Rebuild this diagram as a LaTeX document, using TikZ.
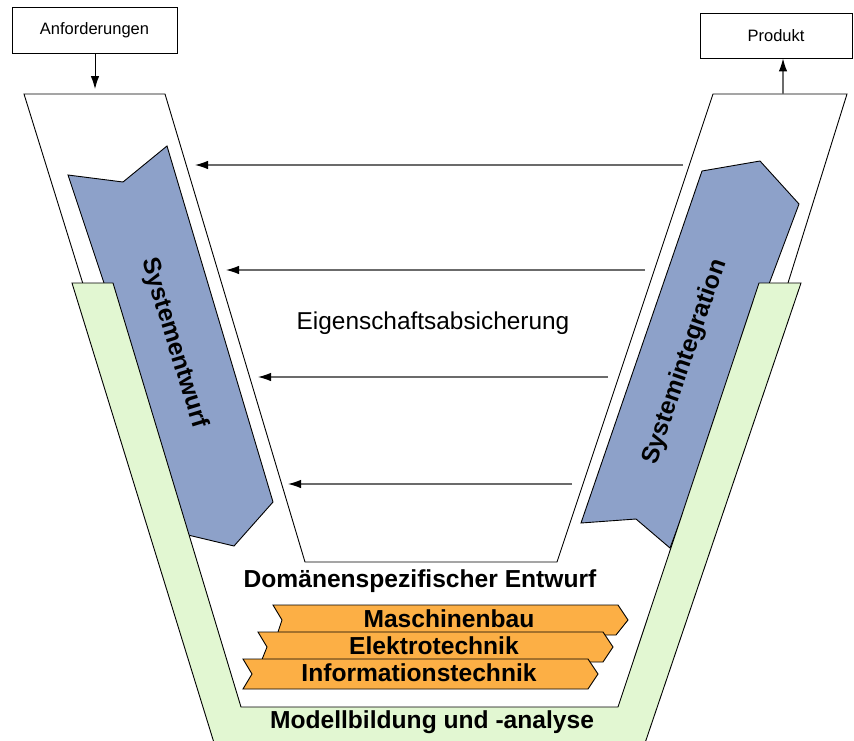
\documentclass[tikz,border=0pt]{standalone}
\usepackage{fontspec}
\setmainfont{Liberation Sans}
\usetikzlibrary{arrows.meta}
\definecolor{vblue}{HTML}{8DA1C9}
\definecolor{vgreen}{HTML}{E2F7D2}
\definecolor{vorange}{HTML}{FCAF45}
\definecolor{vgray}{HTML}{6B6B6B}
\begin{document}
\begin{tikzpicture}[x=1pt,y=-1pt,line join=miter,
  outline/.style={draw=black,line width=0.9pt},
  labelbox/.style={draw=black,line width=0.9pt,fill=white,inner sep=0pt,
    font=\fontsize{16.5}{20}\selectfont},
  bigbold/.style={font=\fontsize{24.6}{29}\selectfont\bfseries,inner sep=0pt},
  bigplain/.style={font=\fontsize{24.4}{29}\selectfont,inner sep=0pt},
  chev/.style={outline,fill=vorange},
  backarrow/.style={draw=vgray,line width=1.1pt,-{Latex[color=black,length=13pt,width=8.5pt]}}
]
\useasboundingbox (0,0) rectangle (854,740);

% V-shaped carrier of the two phases (its lower part runs under the green band)
\draw[outline,fill=white] (24,94) -- (165,94) -- (305,562) -- (557,562) -- (713,94)
  -- (847,94) -- (788,283) -- (640,722) -- (219,722) -- cycle;

% phase arrows
\draw[outline,fill=vblue] (68,175) -- (123,182) -- (167,146) -- (273,502)
  -- (234,546) -- (188,535) -- cycle;
\draw[outline,fill=vblue] (702,171) -- (760,161) -- (799,204) -- (670,548)
  -- (636,519) -- (581,523) -- cycle;

% modelling and analysis band
\draw[outline,fill=vgreen] (72,283) -- (113,283) -- (241,707) -- (618,707)
  -- (759,283) -- (801,283) -- (644,746) -- (215,746) -- cycle;

% domain chevrons
\draw[chev] (273,605) -- (618,605) -- (628,620) -- (616,635) -- (277,635) -- (282,620) -- cycle;
\draw[chev] (258,632) -- (603,632) -- (613,647) -- (603,662) -- (261,662) -- (267,647) -- cycle;
\draw[chev] (243,659) -- (588,659) -- (598,674) -- (588,689) -- (243,689) -- (252,674) -- cycle;

% input and output
\node[labelbox,minimum width=165pt,minimum height=46pt] (anf) at (94.5,30) {Anforderungen};
\node[labelbox,minimum width=152pt,minimum height=45pt] (prod) at (776,35.5) {Produkt};
\coordinate (anfin) at (95,89);
\coordinate (prodout) at (783,94);
\draw[line width=0.9pt,-{Latex[length=13pt,width=8.5pt]}] (anf.south -| anfin) -- (anfin);
\draw[backarrow] (prodout) -- (prodout |- prod.south);

% property assurance arrows
\coordinate (r1) at (683,165); \coordinate (l1) at (195,165);
\coordinate (r2) at (645,270); \coordinate (l2) at (226,270);
\coordinate (r3) at (608,377); \coordinate (l3) at (258,377);
\coordinate (r4) at (572,484); \coordinate (l4) at (288,484);
\draw[backarrow] (r1) -- (l1);
\draw[backarrow] (r2) -- (l2);
\draw[backarrow] (r3) -- (l3);
\draw[backarrow] (r4) -- (l4);

% labels
\node[bigplain] (eig) at (433,323) {Eigenschaftsabsicherung};
\node[bigbold,rotate=-73] (sysent) at (174,343) {Systementwurf};
\node[bigbold,rotate=71] (sysint) at (685,362) {Systemintegration};
\node[bigbold] (dom) at (420,581) {Domänenspezifischer Entwurf};
\node[bigbold] (mb) at (449,619) {Maschinenbau};
\node[bigbold] (et) at (434,646) {Elektrotechnik};
\node[bigbold] (it) at (419,673) {Informationstechnik};
\node[bigbold] (mod) at (432,722) {Modellbildung und -analyse};
\end{tikzpicture}
\end{document}
